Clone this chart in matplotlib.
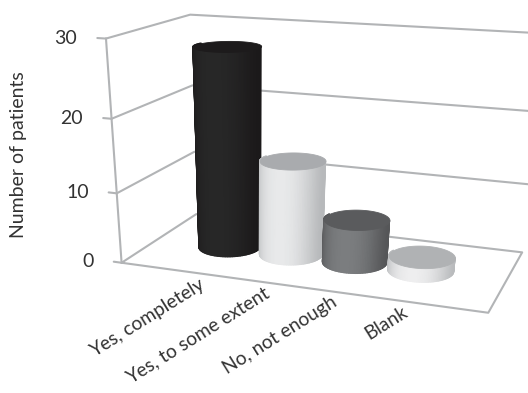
import numpy as np
import matplotlib
matplotlib.use("Agg")
import matplotlib.pyplot as plt
from mpl_toolkits.mplot3d import proj3d
from mpl_toolkits.mplot3d.art3d import Poly3DCollection

# Chart data
categories = ["Yes, completely", "Yes, to some extent", "No, not enough", "Blank"]
patients = [28, 13.5, 6.2, 2]
z_ticks = [0, 10, 20, 30]
y_title = "Number of patients"

# Cylinder shading: rim, centre highlight, top cap
rim_colors = ["#1b191a", "#b7b9bb", "#555658", "#b9bbbd"]
mid_colors = ["#272727", "#e8e9ea", "#7b7d7f", "#eeeeef"]
cap_colors = ["#1d1b1c", "#a9abae", "#5a5b5d", "#b0b2b4"]

LINE = "#b2b4b6"
TEXT = "#333333"
W, H = 528, 393
X_END = 5.42
Z_TOP = 30
BAR_OFFSET = 1.185
RX, RY = 0.47, 0.19
DEPTH = 0.49

plt.rcParams["font.family"] = ["Lato", "DejaVu Sans"]


def camera_matrix():
    """Solve the perspective camera from where the box corners land on the canvas."""
    pairs = [
        ((0, 0, 0), (120, 263)),
        ((0, 0, Z_TOP), (108, 38)),
        ((0, 1, Z_TOP), (188, 15)),
        ((0, 1, 0), (198, 214)),
        ((X_END, 0, 0), (488, 313)),
        ((X_END, 1, 0), (522, 252)),
        ((X_END, 1, Z_TOP), (552, 34)),
    ]
    rows = []
    for (x, y, z), (u, v) in pairs:
        rows.append([x, y, z, 1, 0, 0, 0, 0, -u * x, -u * y, -u * z, -u])
        rows.append([0, 0, 0, 0, x, y, z, 1, -v * x, -v * y, -v * z, -v])
    p = np.linalg.svd(np.array(rows, float))[2][-1].reshape(3, 4)
    if p[2, 3] < 0:
        p = -p
    depth_row = [0, p[2, 3], 0, 0]
    return np.array([p[0], p[1], depth_row, p[2]])


fig = plt.figure(figsize=(W / 100, H / 100), dpi=100, facecolor="white")
ax = fig.add_axes([0, 0, 1, 1], projection="3d", computed_zorder=False)
ax.set_axis_off()
ax.set_autoscale_on(False)
ax.set_proj_type("ortho")
ax.set_xlim(0, X_END)
ax.set_ylim(0, 1)
ax.set_zlim(0, Z_TOP)

M = camera_matrix()
ax.get_proj = lambda: M
ax.apply_aspect = lambda position=None: None
ax.viewLim.intervalx = (0, W)
ax.viewLim.intervaly = (H, 0)


def line3d(xs, ys, zs, zorder=1):
    ax.plot(xs, ys, zs, color=LINE, lw=1.5, zorder=zorder, solid_capstyle="round")


# Box frame: floor outline, left edge, gridlines on both walls, tick marks
line3d([0, X_END, X_END, 0, 0], [0, 0, 1, 1, 0], [0, 0, 0, 0, 0])
line3d([0, 0], [0, 0], [0, Z_TOP])
for z in z_ticks:
    if z > 0:
        line3d([0, 0, X_END], [0, 1, 1], [z, z, z])
    line3d([-0.13, 0], [0, 0], [z, z])

# Cylinders, drawn left to right so each one sits over its neighbour
theta_all = np.linspace(0, 2 * np.pi, 121)
theta_near = np.linspace(np.pi - 0.25, 2 * np.pi + 0.25, 70)
for i, value in enumerate(patients):
    cx = i + BAR_OFFSET
    ex = cx + RX * np.cos(theta_near)
    ey = DEPTH + RY * np.sin(theta_near)
    rim = np.array(matplotlib.colors.to_rgb(rim_colors[i]))
    mid = np.array(matplotlib.colors.to_rgb(mid_colors[i]))
    quads, shades = [], []
    for k in range(len(theta_near) - 1):
        quads.append([
            (ex[k], ey[k], 0), (ex[k + 1], ey[k + 1], 0),
            (ex[k + 1], ey[k + 1], value), (ex[k], ey[k], value),
        ])
        t = abs(np.cos((theta_near[k] + theta_near[k + 1]) / 2))
        shades.append(rim + (mid - rim) * (1 - t ** 2.2))
    side = Poly3DCollection(quads, facecolors=shades, edgecolors=shades,
                            linewidths=1.0, zorder=5 + i * 2)
    ax.add_collection3d(side, autolim=False)
    cap_x = cx + RX * np.cos(theta_all)
    cap_y = DEPTH + RY * np.sin(theta_all)
    cap = Poly3DCollection([list(zip(cap_x, cap_y, np.full_like(cap_x, value)))],
                           facecolors=cap_colors[i], edgecolors=cap_colors[i],
                           linewidths=0.6, zorder=6 + i * 2)
    ax.add_collection3d(cap, autolim=False)


def to_canvas(x, y, z):
    px, py, _ = proj3d.proj_transform(x, y, z, M)
    return float(px), float(py)


# Value axis labels
for z in z_ticks:
    ax.annotate(str(z), xy=to_canvas(-0.13, 0, z), xytext=(-20, 0),
                textcoords="offset pixels", ha="right", va="center",
                fontsize=14, color=TEXT, annotation_clip=False)

# Category labels, slanted and ending below the front edge
for i, name in enumerate(categories):
    ax.annotate(name, xy=to_canvas(i + BAR_OFFSET, 0, 0), xytext=(4, -3),
                textcoords="offset pixels", ha="right", va="top",
                rotation=32, rotation_mode="anchor",
                fontsize=13.8, color=TEXT, annotation_clip=False)

fig.text(19 / W, 1 - 155 / H, y_title, rotation=90, ha="center", va="center",
         fontsize=14, color=TEXT)

fig.savefig("out.png", dpi=100)
